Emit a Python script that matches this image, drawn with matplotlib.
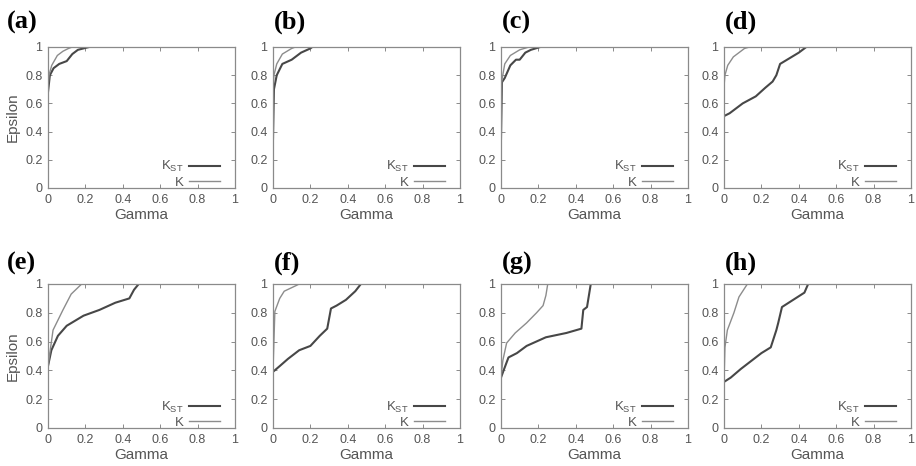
import matplotlib
matplotlib.use("Agg")
import matplotlib.pyplot as plt

plt.rcParams['font.family'] = ['Liberation Sans', 'DejaVu Sans']
plt.rcParams['mathtext.fontset'] = 'custom'
plt.rcParams['mathtext.rm'] = 'Liberation Sans'
plt.rcParams['mathtext.it'] = 'Liberation Sans'

# curves: (gamma, epsilon) per panel
panel_names = ['(a)', '(b)', '(c)', '(d)', '(e)', '(f)', '(g)', '(h)']

kst_x = [
    [0, 0.01, 0.03, 0.06, 0.10, 0.13, 0.16, 0.22],
    [0, 0.005, 0.02, 0.05, 0.10, 0.15, 0.20, 0.21],
    [0, 0.005, 0.02, 0.05, 0.08, 0.10, 0.13, 0.16, 0.21],
    [0, 0.03, 0.10, 0.17, 0.22, 0.26, 0.28, 0.30, 0.35, 0.40, 0.44],
    [0, 0.018, 0.053, 0.10, 0.19, 0.275, 0.36, 0.435, 0.46, 0.485],
    [0, 0.036, 0.08, 0.14, 0.20, 0.25, 0.29, 0.31, 0.34, 0.39, 0.44, 0.47],
    [0, 0.014, 0.04, 0.085, 0.137, 0.24, 0.35, 0.43, 0.44, 0.46, 0.47, 0.48],
    [0, 0.036, 0.09, 0.14, 0.20, 0.25, 0.28, 0.29, 0.31, 0.37, 0.43, 0.45],
]
kst_y = [
    [0.68, 0.80, 0.85, 0.88, 0.90, 0.95, 0.98, 1.0],
    [0.35, 0.70, 0.80, 0.88, 0.91, 0.96, 0.99, 1.0],
    [0.35, 0.75, 0.78, 0.87, 0.91, 0.91, 0.96, 0.98, 1.0],
    [0.51, 0.53, 0.60, 0.65, 0.71, 0.755, 0.80, 0.88, 0.92, 0.96, 1.0],
    [0.43, 0.54, 0.64, 0.71, 0.78, 0.82, 0.87, 0.90, 0.96, 1.0],
    [0.39, 0.43, 0.48, 0.54, 0.57, 0.64, 0.69, 0.83, 0.85, 0.89, 0.95, 1.0],
    [0.35, 0.40, 0.49, 0.52, 0.57, 0.63, 0.66, 0.69, 0.82, 0.84, 0.92, 1.0],
    [0.32, 0.35, 0.41, 0.46, 0.52, 0.56, 0.68, 0.73, 0.84, 0.89, 0.94, 1.0],
]
k_x = [
    [0, 0.005, 0.02, 0.05, 0.08, 0.11, 0.13],
    [0, 0, 0.005, 0.02, 0.05, 0.10, 0.12],
    [0, 0.003, 0.02, 0.05, 0.10, 0.15],
    [0, 0.005, 0.02, 0.05, 0.08, 0.11, 0.137],
    [0, 0.027, 0.08, 0.124, 0.18],
    [0, 0.01, 0.036, 0.06, 0.125, 0.14],
    [0, 0.01, 0.03, 0.076, 0.137, 0.19, 0.225, 0.24, 0.25],
    [0, 0.005, 0.018, 0.053, 0.08, 0.125],
]
k_y = [
    [0.72, 0.80, 0.87, 0.94, 0.97, 0.99, 1.0],
    [0.35, 0.70, 0.80, 0.88, 0.95, 0.99, 1.0],
    [0.35, 0.75, 0.88, 0.94, 0.98, 1.0],
    [0.72, 0.80, 0.87, 0.93, 0.96, 0.99, 1.0],
    [0.43, 0.68, 0.82, 0.93, 1.0],
    [0.40, 0.81, 0.90, 0.95, 0.99, 1.0],
    [0.35, 0.47, 0.59, 0.66, 0.73, 0.80, 0.85, 0.92, 1.0],
    [0.32, 0.56, 0.68, 0.80, 0.91, 1.0],
]
ticks = [0, 0.2, 0.4, 0.6, 0.8, 1]
tick_labels = ['0', '0.2', '0.4', '0.6', '0.8', '1']

W, H = 916, 466
fig = plt.figure(figsize=(W / 100, H / 100), dpi=100)

lefts = [48, 273, 501, 724]
rows = [(47, 188), (284, 428)]
width = 187
frame = '#8a8a8a'
txt = '#555555'

for i in range(8):
    r, c = divmod(i, 4)
    top, bot = rows[r]
    ax = fig.add_axes([lefts[c] / W, 1 - bot / H, width / W, (bot - top) / H])
    ax.plot(kst_x[i], kst_y[i], color='#474747', lw=1.5, label=r'K$_{\rm ST}$')
    ax.plot(k_x[i], k_y[i], color='#8c8c8c', lw=1.0, label='K')
    ax.set_xlim(0, 1)
    ax.set_ylim(0, 1)
    ax.set_xticks(ticks)
    ax.set_xticklabels(tick_labels)
    ax.set_yticks(ticks)
    ax.set_yticklabels(tick_labels)
    ax.tick_params(direction='in', length=3, width=0.7, color=frame,
                   labelsize=9, labelcolor=txt, top=True, right=True, pad=4)
    for s in ax.spines.values():
        s.set_color(frame)
        s.set_linewidth(0.9)
    ax.set_xlabel('Gamma', fontsize=11, color=txt, labelpad=2)
    if c == 0:
        ax.set_ylabel('Epsilon', fontsize=11, color=txt, labelpad=4)
    leg = ax.legend(loc='lower right', frameon=False, markerfirst=False,
                    fontsize=9.5, handlelength=2.3, handletextpad=0.4,
                    labelspacing=0.15, borderaxespad=0.2,
                    bbox_to_anchor=(0.96, -0.06))
    for t in leg.get_texts():
        t.set_color(txt)
    lx = 7 if c == 0 else lefts[c] + 1
    ly = 22 if r == 0 else 263
    fig.text(lx / W, 1 - ly / H, panel_names[i], fontsize=19, fontweight='bold',
             family=['Liberation Serif', 'DejaVu Serif'], va='center', ha='left')

fig.savefig('out.png', dpi=100)
